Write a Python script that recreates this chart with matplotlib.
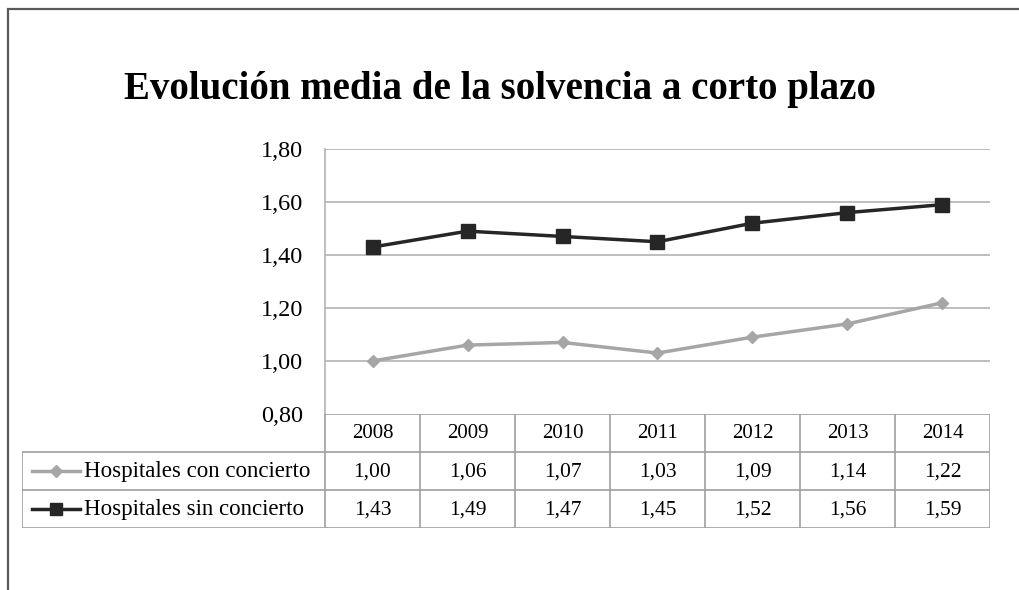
import matplotlib.pyplot as plt
from matplotlib.patches import Rectangle

years = ['2008', '2009', '2010', '2011', '2012', '2013', '2014']
con_concierto = [1.00, 1.06, 1.07, 1.03, 1.09, 1.14, 1.22]
sin_concierto = [1.43, 1.49, 1.47, 1.45, 1.52, 1.56, 1.59]
series_names = ['Hospitales con concierto', 'Hospitales sin concierto']
y_ticks = [0.80, 1.00, 1.20, 1.40, 1.60, 1.80]

plt.rcParams['font.family'] = ['Liberation Serif', 'DejaVu Serif']

W, H = 1019, 590
fig = plt.figure(figsize=(W / 100, H / 100), dpi=100)

def px(x0, y0, x1, y1):
    # pixel box (top-left origin) -> figure fraction rect
    return [x0 / W, 1 - y1 / H, (x1 - x0) / W, (y1 - y0) / H]

def fmt(v):
    return f'{v:.2f}'.replace('.', ',')

grid_col = '#b3b3b3'
dark = '#262626'
light = '#a6a6a6'

# outer frame of the chart area (runs off the right and bottom edges)
fig.add_artist(Rectangle((8 / W, -0.05), 1.05, 1.05 - 8.5 / H,
                         transform=fig.transFigure, fill=False,
                         edgecolor='#595959', lw=1.6))

fig.text(500 / W, 1 - 89 / H, 'Evolución media de la solvencia a corto plazo',
         ha='center', va='center', fontsize=28, fontweight='bold')

# plot area
ax = fig.add_axes(px(325, 149, 990, 414))
n = len(years)
xs = list(range(n))
ax.set_xlim(-0.5, n - 0.5)
ax.set_ylim(0.80, 1.80)
ax.set_yticks(y_ticks)
ax.set_yticklabels([fmt(v) for v in y_ticks], fontsize=17.5)
ax.tick_params(axis='y', length=0, pad=16)
ax.set_xticks([])
for v in y_ticks[1:]:
    ax.axhline(v, color=grid_col, lw=1.2, zorder=1)
for s in ['top', 'right', 'bottom']:
    ax.spines[s].set_visible(False)
ax.spines['left'].set_color(grid_col)
ax.spines['left'].set_linewidth(1.2)

ax.plot(xs, con_concierto, color=light, lw=2.5, marker='D', markersize=6.5,
        markeredgecolor=light, zorder=3)
ax.plot(xs, sin_concierto, color=dark, lw=2.5, marker='s', markersize=10,
        markeredgecolor=dark, zorder=4)

# data table below the plot
col_w = 95.0
left_w = (325 - 22) / col_w
tab = fig.add_axes(px(22, 414, 990, 528))
tab.set_xlim(-0.5 - left_w, n - 0.5)
tab.set_ylim(3, 0)
tab.axis('off')
tc = '#a0a0a0'
x_left = -0.5 - left_w
tab.plot([-0.5, n - 0.5], [0, 0], color=tc, lw=1.2)
for r in [1, 2, 3]:
    tab.plot([x_left, n - 0.5], [r, r], color=tc, lw=1.2)
for i in range(n + 1):
    tab.plot([i - 0.5, i - 0.5], [0, 3], color=tc, lw=1.2)
tab.plot([x_left, x_left], [1, 3], color=tc, lw=1.2)

for i, yr in enumerate(years):
    tab.text(i, 0.52, yr, ha='center', va='center', fontsize=15)
    tab.text(i, 1.52, fmt(con_concierto[i]), ha='center', va='center', fontsize=15.5)
    tab.text(i, 2.52, fmt(sin_concierto[i]), ha='center', va='center', fontsize=15.5)

# legend keys inside the table
key_x0 = x_left + 10 / col_w
key_x1 = x_left + 58 / col_w
key_mid = (key_x0 + key_x1) / 2
styles = [(light, 'D', 6), (dark, 's', 9)]
for r, (name, (c, m, ms)) in enumerate(zip(series_names, styles)):
    yy = 1.5 + r
    tab.plot([key_x0, key_x1], [yy, yy], color=c, lw=2.5)
    tab.plot([key_mid], [yy], color=c, marker=m, markersize=ms, markeredgecolor=c)
    tab.text(key_x1 + 4 / col_w, yy + 0.02, name, ha='left', va='center', fontsize=16.5)

fig.savefig('out.png', dpi=100)
